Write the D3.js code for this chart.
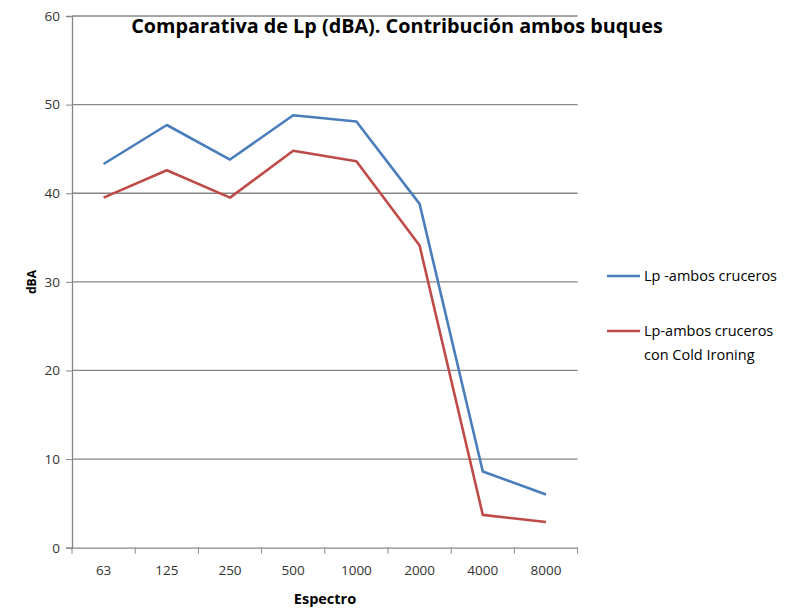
<!DOCTYPE html>
<html>
<head>
<meta charset="utf-8">
<script src="https://cdn.jsdelivr.net/npm/d3@7"></script>
<style>
  body { margin: 0; background: #fff; }
  text { font-family: "Open Sans", "Liberation Sans", sans-serif; }
</style>
</head>
<body>
<div id="chart"></div>
<script>
var categories = ["63", "125", "250", "500", "1000", "2000", "4000", "8000"];
var lpAmbos = [43.3, 47.7, 43.8, 48.8, 48.1, 38.8, 8.6, 6.0];
var lpCold = [39.5, 42.6, 39.5, 44.8, 43.6, 34.1, 3.7, 2.9];
var seriesNames = ["Lp -ambos cruceros", "Lp-ambos cruceros\ncon Cold Ironing"];
var yTicks = [0, 10, 20, 30, 40, 50, 60];

var width = 790, height = 610;
var plotLeft = 72, plotRight = 577.6, plotTop = 16, plotBottom = 547.7;

var svg = d3.select("#chart").append("svg")
    .attr("width", width)
    .attr("height", height);

var x = d3.scaleBand().domain(categories).range([plotLeft, plotRight]);
var y = d3.scaleLinear().domain([0, 60]).range([plotBottom, plotTop]);

// gridlines
svg.append("g")
    .selectAll("line")
    .data(yTicks.filter(function(d) { return d > 0; }))
    .enter()
    .append("line")
    .attr("x1", plotLeft).attr("x2", plotRight)
    .attr("y1", function(d) { return y(d); })
    .attr("y2", function(d) { return y(d); })
    .style("stroke", "#868686")
    .style("stroke-width", 1.3);

// y axis
var yAxis = svg.append("g")
    .attr("transform", "translate(" + plotLeft + ",0)")
    .call(d3.axisLeft(y).tickValues(yTicks).tickSize(6).tickPadding(6));
yAxis.select(".domain").style("stroke", "#868686").style("stroke-width", 1.3);
yAxis.selectAll(".tick line").style("stroke", "#868686");
yAxis.selectAll("text").style("font-size", "13.5px").style("fill", "#333");

// x axis
var xAxis = svg.append("g")
    .attr("transform", "translate(0," + plotBottom + ")")
    .call(d3.axisBottom(x).tickSize(0).tickPadding(18));
xAxis.select(".domain").style("stroke", "#868686").style("stroke-width", 1.3);
xAxis.selectAll("text").style("font-size", "13.5px").style("fill", "#333");
xAxis.append("g")
    .selectAll("line")
    .data(d3.range(categories.length + 1))
    .enter()
    .append("line")
    .attr("x1", function(i) { return plotLeft + i * x.step(); })
    .attr("x2", function(i) { return plotLeft + i * x.step(); })
    .attr("y1", 0).attr("y2", 6)
    .style("stroke", "#868686");

// lines
var line = d3.line()
    .x(function(d, i) { return x(categories[i]) + x.bandwidth() / 2; })
    .y(function(d) { return y(d); });

var colors = ["#4a7ebb", "#be4b48"];
[lpAmbos, lpCold].forEach(function(s, k) {
    svg.append("path")
        .datum(s)
        .attr("d", line)
        .style("fill", "none")
        .style("stroke", colors[k])
        .style("stroke-width", 2.6)
        .style("stroke-linejoin", "round");
});

// title
svg.append("text")
    .attr("x", 397).attr("y", 33)
    .attr("text-anchor", "middle")
    .style("font-size", "19.8px")
    .style("font-weight", "bold")
    .style("fill", "#000")
    .text("Comparativa de Lp (dBA). Contribución ambos buques");

// axis titles
svg.append("text")
    .attr("transform", "translate(36,282) rotate(-90)")
    .attr("text-anchor", "middle")
    .style("font-size", "12px")
    .style("font-weight", "bold")
    .style("fill", "#000")
    .text("dBA");

svg.append("text")
    .attr("x", 325).attr("y", 604)
    .attr("text-anchor", "middle")
    .style("font-size", "14.5px")
    .style("font-weight", "bold")
    .style("fill", "#000")
    .text("Espectro");

// legend
var legendY = [276, 331];
seriesNames.forEach(function(name, k) {
    var g = svg.append("g").attr("transform", "translate(607," + legendY[k] + ")");
    g.append("line")
        .attr("x1", 0).attr("x2", 33)
        .style("stroke", colors[k])
        .style("stroke-width", 2.6);
    name.split("\n").forEach(function(t, j) {
        g.append("text")
            .attr("x", 37).attr("y", 5 + j * 24)
            .style("font-size", "14.5px")
            .style("fill", "#000")
            .text(t);
    });
});
</script>
</body>
</html>
